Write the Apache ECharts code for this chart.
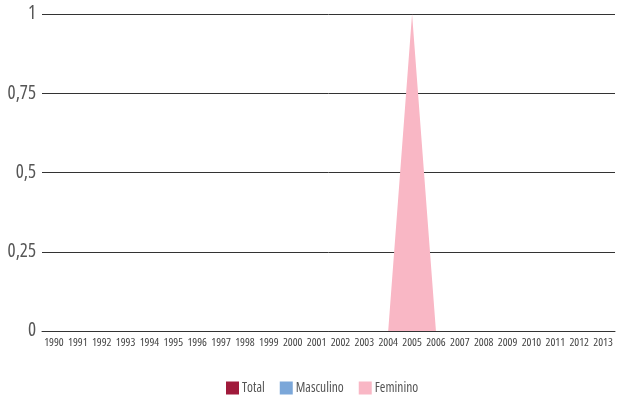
<!DOCTYPE html>
<html>
<head>
<meta charset="utf-8">
<script src="https://cdn.jsdelivr.net/npm/echarts@6/dist/echarts.min.js"></script>
<style>
  html, body { margin: 0; padding: 0; background: #fff; }
  #chart { width: 617px; height: 401px; }
</style>
</head>
<body>
<div id="chart"></div>
<script>
// Years on the category axis
const years = ['1990','1991','1992','1993','1994','1995','1996','1997','1998','1999','2000','2001',
  '2002','2003','2004','2005','2006','2007','2008','2009','2010','2011','2012','2013'];

// Series values per year
const total     = [0,0,0,0,0,0,0,0,0,0,0,0,0,0,0,0,0,0,0,0,0,0,0,0];
const masculino = [0,0,0,0,0,0,0,0,0,0,0,0,0,0,0,0,0,0,0,0,0,0,0,0];
const feminino  = [0,0,0,0,0,0,0,0,0,0,0,0,0,0,0,1,0,0,0,0,0,0,0,0];

// Value axis ticks
const yTicks = [0, 0.25, 0.5, 0.75, 1];

const seriesNames = ['Total', 'Masculino', 'Feminino'];
const seriesColors = ['#a01a3b', '#7ba7d9', '#f9b7c5'];

// Condensed face of Open Sans (width axis), used for every label
const font = "'Open Sans', 'Roboto Condensed', sans-serif";
const stretch = 'normal condensed';

const chart = echarts.init(document.getElementById('chart'), null, { renderer: 'canvas' });

function areaSeries(name, data, color) {
  return {
    name: name,
    type: 'line',
    data: data,
    showSymbol: false,
    symbol: 'none',
    itemStyle: { color: color },
    lineStyle: { width: 0, color: color },
    areaStyle: { color: color, opacity: 1 },
    animation: false
  };
}

chart.setOption({
  animation: false,
  color: seriesColors,
  grid: { left: 42, right: 2, top: 14, bottom: 70, containLabel: false },
  legend: {
    bottom: 1,
    left: 221,
    icon: 'rect',
    itemWidth: 13,
    itemHeight: 13,
    itemGap: 15,
    textStyle: { fontFamily: font, fontWeight: stretch, fontSize: 13.5, color: '#555', padding: [0, 0, 0, -2] },
    data: seriesNames
  },
  xAxis: {
    type: 'category',
    data: years,
    boundaryGap: true,
    axisLine: { show: true, lineStyle: { color: '#333', width: 1 } },
    axisTick: { show: false },
    axisLabel: {
      interval: 0,
      fontFamily: font,
      fontWeight: stretch,
      fontSize: 11.5,
      color: '#444',
      margin: 6
    },
    splitLine: { show: false }
  },
  yAxis: {
    type: 'value',
    min: yTicks[0],
    max: yTicks[yTicks.length - 1],
    interval: 0.25,
    axisLine: { show: false },
    axisTick: { show: false },
    axisLabel: {
      fontFamily: font,
      fontWeight: stretch,
      fontSize: 19,
      color: '#555',
      margin: 6,
      formatter: function (v) { return String(v).replace('.', ','); }
    },
    splitLine: { show: true, lineStyle: { color: '#333', width: 1 } }
  },
  series: [
    areaSeries(seriesNames[0], total, seriesColors[0]),
    areaSeries(seriesNames[1], masculino, seriesColors[1]),
    areaSeries(seriesNames[2], feminino, seriesColors[2])
  ]
});
</script>
</body>
</html>
